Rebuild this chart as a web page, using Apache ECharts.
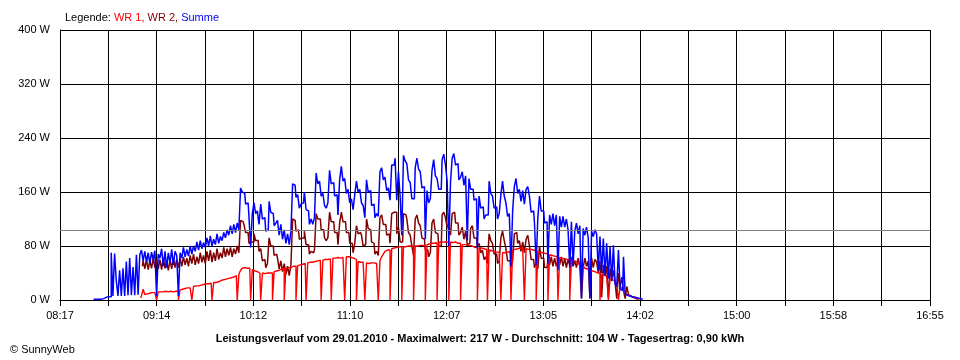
<!DOCTYPE html>
<html>
<head>
<meta charset="utf-8">
<script src="https://cdn.jsdelivr.net/npm/echarts@6/dist/echarts.min.js"></script>
<style>
html,body{margin:0;padding:0;background:#fff;}
#c{width:960px;height:360px;}
</style>
</head>
<body>
<div id="c"></div>
<script>
// ---- data ----
const tickLabels = ['08:17','09:14','10:12','11:10','12:07','13:05','14:02','15:00','15:58','16:55'];
const axisSpanMin = 518;          // minutes from 08:17 to 16:55
const gridSteps = 18;             // vertical grid divisions
const seriesNames = ['WR 1', 'WR 2', 'Summe'];
const avgW = 104;                 // Durchschnitt
const subtitle = 'Leistungsverlauf vom 29.01.2010 - Maximalwert: 217 W - Durchschnitt: 104 W - Tagesertrag: 0,90 kWh';
const copyright = '\u00A9 SunnyWeb';

// minutes after 08:17 of first sample, 1 sample per minute
const summeStart = 20;
const summe = [
1,1,1,1,1,1,2,4,4,5,
5,70,6,69,29,6,44,6,47,6,
57,7,62,7,49,7,67,8,67,74,
58,72,56,70,54,71,60,73,6,68,
62,76,50,72,48,70,55,75,52,72,
66,6,70,62,78,64,75,65,80,68,
80,72,86,74,88,76,85,78,92,80,
95,80,90,82,98,84,94,88,100,92,
104,96,110,98,112,100,114,104,166,160,
158,142,144,124,78,128,144,128,132,112,
142,120,122,102,104,146,130,128,110,114,
118,96,112,90,104,84,98,82,102,172,
170,152,156,136,142,144,160,134,132,112,
120,112,122,188,172,176,154,158,140,136,
144,192,172,174,154,156,126,178,198,176,
180,158,164,144,150,134,156,176,160,164,
144,140,122,178,160,162,140,142,122,128,
124,190,196,178,182,162,166,148,200,200,
210,148,190,154,96,214,206,202,178,174,
150,150,196,210,194,190,166,168,90,162,
144,150,192,208,184,180,164,164,208,216,
200,176,80,174,210,217,200,202,178,182,
190,170,184,88,180,164,164,148,150,76,
154,136,138,120,126,126,176,158,154,136,
138,120,128,156,176,154,144,124,128,50,
132,168,180,158,164,146,162,142,164,168,
154,130,132,114,52,122,154,132,132,114,
116,54,126,112,128,110,126,44,124,108,
124,108,120,104,48,116,50,102,114,98,
110,3,106,96,108,92,3,102,94,104,
98,44,94,40,91,36,84,32,79,28,
81,24,20,74,16,14,64,9,7,6,
5,4,4,4,3,2,1,1
];

const wr1Start = 48;
const wr1 = [
3,6,
16,8,9,10,10,11,11,11,0,12,
12,12,12,13,12,12,13,12,12,13,
13,0,15,16,17,17,18,18,19,0,
20,21,21,22,22,23,22,24,24,25,
25,0,26,26,27,28,29,30,30,31,
32,32,33,34,35,36,0,38,44,47,
48,47,46,47,0,45,43,42,41,40,
0,40,39,40,41,40,40,0,42,43,
44,45,46,46,0,47,48,48,49,50,
50,0,51,52,53,52,54,0,55,56,
56,57,57,58,58,59,0,59,60,60,
61,61,0,62,62,63,63,62,63,64,
0,64,64,63,63,62,60,0,57,56,
56,55,0,55,54,55,54,55,54,55,
0,58,64,68,72,74,74,0,76,77,
78,78,79,79,0,79,79,80,79,80,
80,0,80,80,81,80,81,80,0,82,
83,84,84,84,85,0,85,86,86,86,
86,85,0,86,85,86,85,84,84,0,
82,82,81,81,81,80,79,78,78,0,
77,77,76,76,75,0,74,73,72,72,
71,71,70,0,70,70,71,71,72,0,
74,75,76,76,77,76,76,0,76,75,
75,74,74,73,0,72,71,70,70,69,
68,0,67,66,65,64,64,0,63,62,
61,61,60,60,0,59,58,57,56,54,
52,50,49,47,46,45,44,43,42,41,
40,40,0,38,37,35,34,0,31,30,
28,26,24,0,20,17,14,11,8,6,
5,5,4,3,2,1
];

const wr2Start = 49;
const wr2 = [
50,
58,46,60,45,58,47,62,48,60,46,
60,45,62,47,58,44,60,46,62,48,
60,48,62,50,64,52,62,50,66,54,
68,52,64,54,70,56,66,54,72,58,
74,56,70,58,76,60,70,62,78,64,
76,66,78,64,76,68,80,70,118,116,
112,100,100,84,86,86,98,88,88,72,
76,58,60,48,54,92,80,80,66,68,
62,46,58,42,54,38,50,36,52,120,
118,102,104,90,92,92,102,82,82,68,
72,70,74,128,120,120,104,104,92,88,
92,130,116,116,100,100,82,114,130,116,
116,100,100,84,84,70,84,110,98,100,
96,80,82,120,106,104,86,84,68,72,
66,122,126,112,112,96,98,84,128,130,
130,98,108,86,86,128,126,120,100,96,
80,66,120,126,114,110,92,90,74,74,
64,70,114,120,100,98,80,80,126,130,
122,108,112,96,128,130,114,114,96,100,
108,90,102,82,84,106,110,92,92,80,
84,70,74,60,64,54,98,88,84,68,
68,54,58,92,102,88,76,58,58,48,
58,98,100,84,88,72,86,70,90,96,
80,60,60,48,54,46,80,62,62,48,
48,60,52,64,50,62,50,58,52,64,
50,62,48,60,52,64,50,58,48,62,
50,2,48,62,50,58,2,62,48,60,
56,40,58,4,52,36,50,3,46,30,
44,26,2,40,20,34,14,2,20,8,
6,4,3,2,1
];

// ---- chart ----
const FONT = 'Liberation Sans, Arial, sans-serif';
const step = axisSpanMin / gridSteps;
function toPairs(start, arr){ return arr.map((v,i)=>[start+i, v]); }

const chart = echarts.init(document.getElementById('c'), null, {renderer:'canvas'});
chart.setOption({
  animation: false,
  backgroundColor: '#fff',
  title: [
    {
      left: 60, top: 7,
      text: '{k|Legende: }{a|' + seriesNames[0] + ', }{b|' + seriesNames[1] + ', }{c|' + seriesNames[2] + '}',
      textStyle: {
        fontWeight: 'normal',
        rich: {
          k: {color:'#000', fontSize:11, fontFamily:FONT, fontWeight:'normal'},
          a: {color:'#ff0000', fontSize:11, fontFamily:FONT, fontWeight:'normal'},
          b: {color:'#800000', fontSize:11, fontFamily:FONT, fontWeight:'normal'},
          c: {color:'#0000ff', fontSize:11, fontFamily:FONT, fontWeight:'normal'}
        }
      }
    },
    {
      left: 'center', top: 328,
      text: subtitle,
      textStyle: {color:'#000', fontSize:11, fontWeight:'bold', fontFamily:FONT}
    },
    {
      left: 5, top: 339,
      text: copyright,
      textStyle: {color:'#000', fontSize:11, fontWeight:'normal', fontFamily:FONT}
    }
  ],
  grid: {left: 60, right: 30, top: 30, bottom: 60, containLabel: false},
  xAxis: {
    type: 'value', min: 0, max: axisSpanMin, interval: step,
    axisLine: {show: true, lineStyle: {color: '#000', width: 1}},
    axisTick: {show: true, length: 6, lineStyle: {color: '#000'}},
    axisLabel: {
      color: '#000', fontSize: 11, fontFamily: FONT, margin: 10,
      showMinLabel: true, showMaxLabel: true,
      formatter: function(v){
        const idx = Math.round(v / step);
        return idx % 2 === 0 ? (tickLabels[idx/2] || '') : '';
      }
    },
    splitLine: {show: true, lineStyle: {color: '#000', width: 1}}
  },
  yAxis: {
    type: 'value', min: 0, max: 400, interval: 80,
    axisLine: {show: true, lineStyle: {color: '#000', width: 1}},
    axisTick: {show: false},
    axisLabel: {color: '#000', fontSize: 11, fontFamily: FONT, margin: 10,
      formatter: function(v){ return v + ' W'; }},
    splitLine: {show: true, lineStyle: {color: '#000', width: 1}}
  },
  series: [
    {
      name: seriesNames[1], type: 'line', step: 'middle', data: toPairs(wr2Start, wr2),
      showSymbol: false, symbol: 'none', smooth: false,
      lineStyle: {color: '#800000', width: 1.5}, itemStyle: {color: '#800000'}, z: 2
    },
    {
      name: seriesNames[0], type: 'line', step: 'middle', data: toPairs(wr1Start, wr1),
      showSymbol: false, symbol: 'none', smooth: false,
      lineStyle: {color: '#ff0000', width: 1.4}, itemStyle: {color: '#ff0000'}, z: 3
    },
    {
      name: seriesNames[2], type: 'line', step: 'middle', data: toPairs(summeStart, summe),
      showSymbol: false, symbol: 'none', smooth: false,
      lineStyle: {color: '#0000ff', width: 1.5}, itemStyle: {color: '#0000ff'}, z: 4,
      markLine: {
        silent: true, symbol: ['none','none'], label: {show: false},
        lineStyle: {color: '#808080', type: 'solid', width: 1},
        data: [{yAxis: avgW}]
      }
    }
  ]
});
</script>
</body>
</html>
